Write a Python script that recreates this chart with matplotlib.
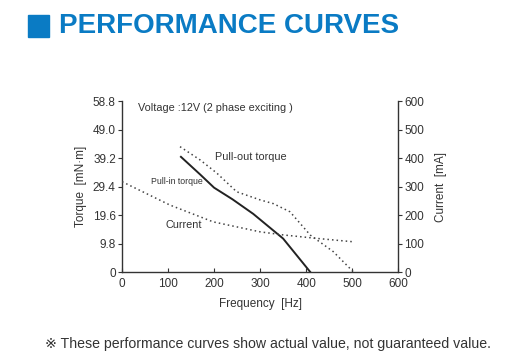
import matplotlib.pyplot as plt
from matplotlib.patches import Rectangle

# frequency [Hz] / torque [mN·m] / current [mA]
pullin_hz = [128, 170, 200, 240, 285, 350, 409]
pullin_torque = [39.6, 33.5, 29.0, 25.0, 20.0, 11.5, 0.0]

pullout_hz = [126, 170, 206, 249, 300, 329, 365, 409, 459, 503]
pullout_torque = [43.1, 38.5, 34.0, 27.6, 24.8, 23.5, 20.7, 12.7, 7.0, 0.0]

current_hz = [0, 104, 198, 300, 351, 423, 503]
current_ma = [317, 235, 176, 141, 130, 118, 106]

torque_ticks = [0, 9.8, 19.6, 29.4, 39.2, 49.0, 58.8]
current_ticks = [0, 100, 200, 300, 400, 500, 600]
freq_ticks = [0, 100, 200, 300, 400, 500, 600]

fonts = ['Liberation Sans', 'DejaVu Sans']
plt.rcParams['font.family'] = fonts
ink = '#333333'
blue = '#0a7bc4'

fig = plt.figure(figsize=(5.26, 3.64), dpi=100)
ax = fig.add_axes([0.232, 0.2527, 0.525, 0.4698])
ax2 = ax.twinx()

ax.plot(pullin_hz, pullin_torque, color='#222222', lw=1.4)
ax.plot(pullout_hz, pullout_torque, color='#444444', lw=1.1, ls=(0, (1, 2)))
ax2.plot(current_hz, current_ma, color='#444444', lw=1.1, ls=(0, (1, 2)))

ax.set_xlim(0, 600)
ax.set_ylim(0, 58.8)
ax2.set_ylim(0, 600)
ax.set_xticks(freq_ticks)
ax.set_yticks(torque_ticks)
ax.set_yticklabels(['0', '9.8', '19.6', '29.4', '39.2', '49.0', '58.8'])
ax2.set_yticks(current_ticks)

for a in (ax, ax2):
    a.spines['top'].set_visible(False)
    for s in a.spines.values():
        s.set_color(ink)
        s.set_linewidth(1.0)
ax.spines['right'].set_visible(False)
ax2.spines['left'].set_visible(False)
ax2.spines['bottom'].set_visible(False)

ax.tick_params(axis='y', direction='out', length=3, color=ink, labelcolor=ink, labelsize=8.5, pad=1.5)
ax.tick_params(axis='x', direction='in', length=3, color=ink, labelcolor=ink, labelsize=8.5, pad=4)
ax2.tick_params(axis='y', direction='out', length=3, color=ink, labelcolor=ink, labelsize=8.5, pad=1.5)

ax.set_xlabel('Frequency  [Hz]', color=ink, fontsize=8.5, labelpad=6)
ax.set_ylabel('Torque  [mN·m]', color=ink, fontsize=8.5, labelpad=4)
ax2.set_ylabel('Current  [mA]', color=ink, fontsize=8.5, labelpad=8)

ax.text(35, 56.5, 'Voltage :12V (2 phase exciting )', color=ink, fontsize=7.8, va='center')
ax.text(202, 39.5, 'Pull-out torque', color=ink, fontsize=7.8, va='center')
ax.text(62, 31, 'Pull-in torque', color=ink, fontsize=6.3, va='center')
ax.text(95, 16.2, 'Current', color=ink, fontsize=7.8, va='center')

# heading
fig.patches.append(Rectangle((28 / 526, 1 - 37 / 364), 21 / 526, 22 / 364,
                             transform=fig.transFigure, color=blue))
fig.text(59 / 526, 1 - 26 / 364, 'PERFORMANCE CURVES', color=blue, fontsize=20,
         fontweight='bold', va='center')

fig.text(45 / 526, 1 - 344 / 364,
         '※ These performance curves show actual value, not guaranteed value.',
         color=ink, fontsize=10.2, va='center')

fig.savefig('out.png', dpi=100)
